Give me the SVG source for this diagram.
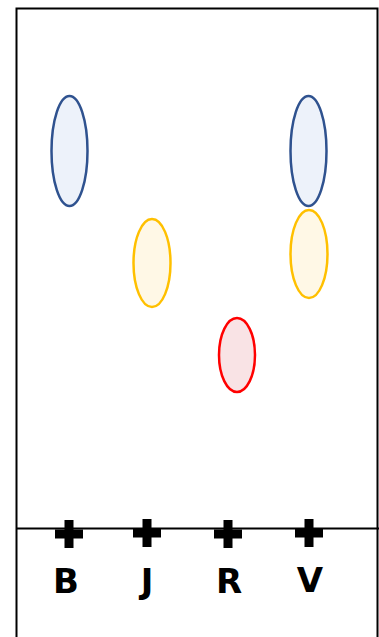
<svg xmlns="http://www.w3.org/2000/svg" width="379" height="637" viewBox="0 0 379 637">
<style>
.frame{fill:#fff;stroke:#000;stroke-width:2}
.blue{fill:#EDF2FA;stroke:#2F528F;stroke-width:2.5}
.yellow{fill:#FFF8E6;stroke:#FFC000;stroke-width:2.5}
.red{fill:#F9E3E5;stroke:#FF0000;stroke-width:2.5}
.lbl{font-family:"Comic Sans MS","DejaVu Sans",sans-serif;font-weight:bold;font-size:34px;fill:#000;text-anchor:middle}
</style>
<defs>
<path id="plus" d="M-4.5,-14 H4.5 V-4.5 H14 V4.5 H4.5 V14 H-4.5 V4.5 H-14 V-4.5 H-4.5 Z" fill="#000"/>
</defs>
<rect x="0" y="0" width="379" height="637" fill="#fff"/>
<g id="plate">
<rect class="frame" x="16.5" y="8.5" width="361" height="640"/>
<line x1="16" y1="528.5" x2="379" y2="528.5" stroke="#000" stroke-width="2"/>
</g>
<g id="spot-B1"><ellipse class="blue" cx="69.5" cy="151" rx="18" ry="55"/></g>
<g id="spot-J1"><ellipse class="yellow" cx="152" cy="263" rx="18.5" ry="44"/></g>
<g id="spot-R1"><ellipse class="red" cx="237" cy="355" rx="18" ry="37"/></g>
<g id="spot-V1"><ellipse class="blue" cx="308.5" cy="151" rx="18" ry="55"/></g>
<g id="spot-V2"><ellipse class="yellow" cx="309" cy="254" rx="18.5" ry="44"/></g>
<g id="start-B"><use href="#plus" x="69" y="534"/><text class="lbl" x="66" y="593">B</text></g>
<g id="start-J"><use href="#plus" x="147" y="533"/><text class="lbl" x="147" y="593">J</text></g>
<g id="start-R"><use href="#plus" x="228" y="534"/><text class="lbl" x="229" y="593">R</text></g>
<g id="start-V"><use href="#plus" x="309" y="533"/><text class="lbl" x="310" y="592">V</text></g>
<g id="connectors"></g>
</svg>
